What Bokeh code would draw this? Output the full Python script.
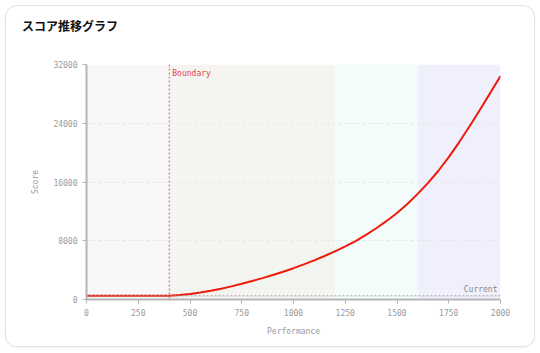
from bokeh.plotting import figure
from bokeh.models import Range1d, Span, Label, FixedTicker, ColumnDataSource, Div
from bokeh.layouts import column
from bokeh.embed import file_html
from bokeh.resources import INLINE

# ---- data ----
performance = [0, 100, 200, 300, 400, 450, 500, 550, 600, 650, 700, 750, 800, 850,
               900, 950, 1000, 1050, 1100, 1150, 1200, 1250, 1300, 1350, 1400, 1450,
               1500, 1550, 1600, 1650, 1700, 1750, 1800, 1850, 1900, 1950, 2000]
score = [500, 500, 500, 500, 500, 600, 750, 950, 1190, 1470, 1785, 2135, 2510, 2910,
         3335, 3785, 4265, 4780, 5330, 5920, 6550, 7225, 7955, 8800, 9700, 10700,
         11780, 13005, 14380, 15880, 17530, 19380, 21405, 23555, 25805, 28105, 30430]
band_edges = [0, 400, 800, 1200, 1600, 2000]
band_colors = ["#f7f7f7", "#f5f4f0", "#f3f6f0", "#f3fcfa", "#f0f0fd"]
boundary_x = 400
current_y = 500
x_ticks = [0, 250, 500, 750, 1000, 1250, 1500, 1750, 2000]
y_ticks = [0, 8000, 16000, 24000, 32000]
title_text = "スコア推移グラフ"

MONO = "DejaVu Sans Mono"
GRAY = "#9a9a9a"

title_div = Div(text=title_text, width=512, height=29, margin=(11, 0, 0, 16),
                styles={"font-family": "'Noto Sans CJK JP'", "font-size": "12px",
                        "font-weight": "bold", "color": "#111111",
                        "line-height": "17px"})

p = figure(width=528, height=300, output_backend="svg", toolbar_location=None,
           x_range=Range1d(0, 2000), y_range=Range1d(0, 32000),
           min_border_left=80, min_border_right=34, min_border_top=18,
           min_border_bottom=47)
p.outline_line_color = None
p.background_fill_color = "white"
p.border_fill_color = "white"

bands = ColumnDataSource(dict(left=band_edges[:-1], right=band_edges[1:], color=band_colors))
p.quad(left="left", right="right", bottom=0, top=32000, fill_color="color",
       line_color=None, source=bands, level="image")

p.line(performance, score, line_color="#ee1a0a", line_width=2)

p.add_layout(Span(location=boundary_x, dimension="height", line_color="#f25565",
                  line_dash="2 2", line_width=1))
p.add_layout(Span(location=current_y, dimension="width", line_color="#a0a0a0",
                  line_dash="2 2", line_width=1))
p.add_layout(Label(x=boundary_x, y=32000, text="Boundary", x_offset=3, y_offset=-4,
                   text_baseline="top", text_font=MONO, text_font_size="8px",
                   text_color="#e84050"))
p.add_layout(Label(x=2000, y=current_y, text="Current", x_offset=-3, y_offset=2,
                   text_align="right", text_baseline="bottom", text_font=MONO,
                   text_font_size="8px", text_color="#888888"))

for ax in (p.xaxis[0], p.yaxis[0]):
    ax.axis_line_color = "#b5b5b5"
    ax.axis_line_width = 2
    ax.major_tick_line_color = "#b5b5b5"
    ax.major_tick_in = 0
    ax.major_tick_out = 4
    ax.minor_tick_line_color = None
    ax.major_label_text_font = MONO
    ax.major_label_text_font_size = "8px"
    ax.major_label_text_color = GRAY
    ax.axis_label_text_font = MONO
    ax.axis_label_text_font_size = "8px"
    ax.axis_label_text_color = GRAY
    ax.axis_label_text_font_style = "normal"

p.xaxis.ticker = FixedTicker(ticks=x_ticks)
p.yaxis.ticker = FixedTicker(ticks=y_ticks)
p.xaxis.axis_label = "Performance"
p.yaxis.axis_label = "Score"
p.xaxis.axis_label_standoff = 8
p.yaxis.axis_label_standoff = 10

for g in (p.xgrid[0], p.ygrid[0]):
    g.grid_line_color = "#e6e6e6"
    g.grid_line_dash = "3 3"
    g.grid_line_width = 1
p.xgrid.grid_line_color = None

card = column(title_div, p, spacing=0)
card.styles = {"margin": "5px", "border": "1px solid #e2e2e2", "border-radius": "12px",
               "overflow": "hidden", "background-color": "white",
               "box-shadow": "0 1px 2px rgba(0,0,0,0.06)"}

open("out.html", "w").write(file_html(card, INLINE))
